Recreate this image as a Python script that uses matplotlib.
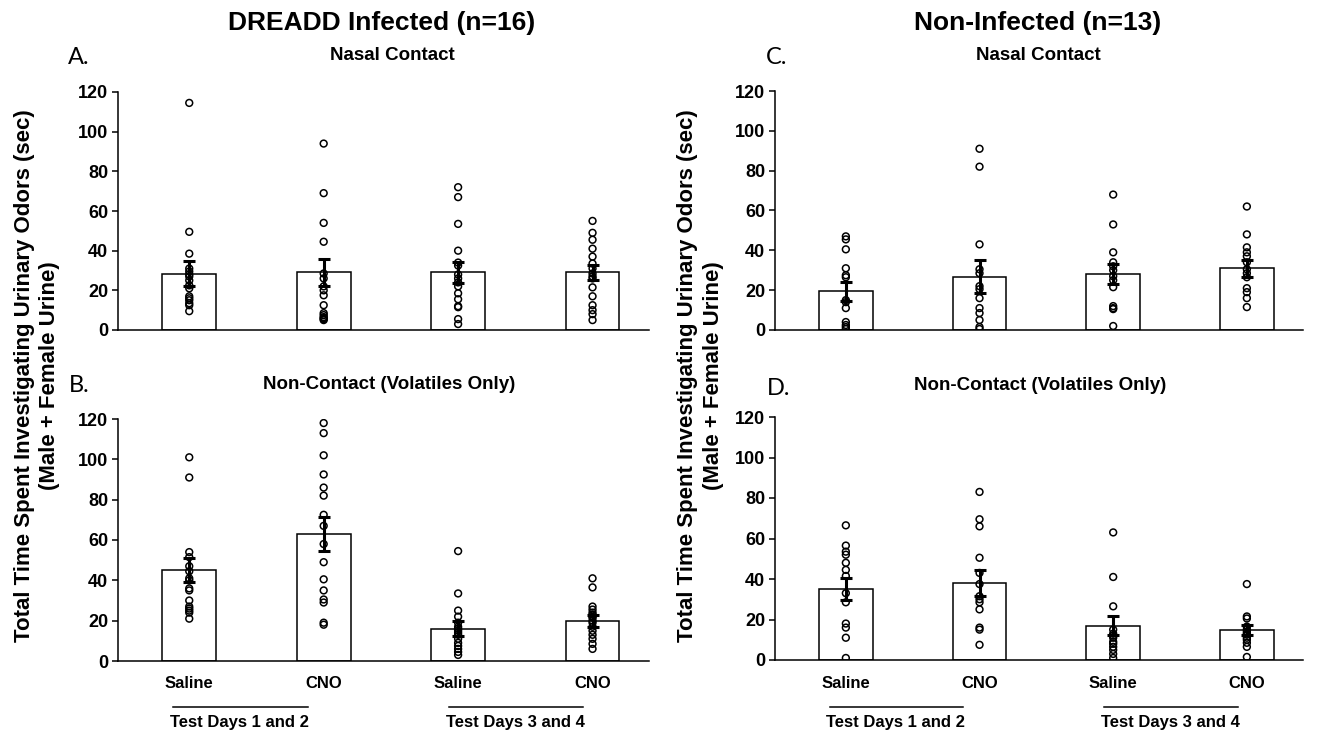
import matplotlib
matplotlib.use("Agg")
import matplotlib.pyplot as plt
import matplotlib.transforms as mtransforms
import numpy as np

plt.rcParams['font.family'] = ['Liberation Sans', 'DejaVu Sans']
plt.rcParams['font.weight'] = 'bold'

W, H = 1320, 737

# ---------------- data ----------------
conditions = ["Saline", "CNO", "Saline", "CNO"]
day_groups = ["Test Days 1 and 2", "Test Days 3 and 4"]

# Panel A: DREADD, Nasal Contact (n=16)
A_means = [28.4, 29.1, 29.1, 29.0]
A_sem = [6.4, 6.8, 5.3, 4.0]
A_sal12 = [114.5, 49.5, 38.5, 31, 29.5, 28, 27, 25, 22.5, 21, 17, 16, 15, 13.5, 12.5, 9.5]
A_cno12 = [94, 69, 54, 44.5, 28.5, 26, 22, 20, 17.5, 12.5, 8.5, 7.5, 6.5, 6, 5.5, 5]
A_sal34 = [72, 67, 53.5, 40, 34, 32.5, 28, 26, 24, 22, 18.5, 15.5, 12, 11.5, 5.5, 3]
A_cno34 = [55, 49, 45.5, 41, 37, 33.5, 31, 28.5, 27, 26, 21.5, 17, 12.5, 10, 8, 5]

# Panel B: DREADD, Non-Contact (n=16)
B_means = [45.1, 62.8, 15.9, 20.0]
B_sem = [6.0, 8.5, 3.7, 3.0]
B_sal12 = [101, 91, 54, 51.5, 47, 44.5, 41, 40, 36, 35, 30, 27, 26, 25, 24, 21]
B_cno12 = [118, 113, 102, 92.5, 86, 82, 72.5, 67, 58, 49, 40.5, 35, 30.5, 29, 19, 18]
B_sal34 = [54.5, 33.5, 25, 22, 19, 17, 16, 15, 14, 13, 11, 9, 7.5, 6, 4.5, 3]
B_cno34 = [41, 36.5, 27, 25.5, 24, 23, 22, 21.5, 20, 19, 17, 15, 13, 11, 8.5, 6]

# Panel C: Non-infected, Nasal Contact (n=13)
C_means = [19.4, 26.8, 28.3, 31.0]
C_sem = [4.6, 8.2, 5.0, 4.2]
C_sal12 = [47, 45.5, 40.5, 31, 27.5, 26.5, 15, 14, 11, 4, 2.5, 1.5, 0.5]
C_cno12 = [91, 82, 43, 30.5, 28.5, 22, 20.5, 16, 11, 8.5, 5, 1.5, 0.5]
C_sal34 = [68, 53, 39, 34, 32, 30, 27, 25, 21.5, 12, 11, 10.5, 2]
C_cno34 = [62, 48, 41.5, 39, 37, 34, 30.5, 28.5, 26.5, 21, 19, 16, 11.5]

# Panel D: Non-infected, Non-Contact (n=13)
D_means = [34.9, 38.1, 16.8, 14.8]
D_sem = [5.4, 6.5, 4.7, 2.3]
D_sal12 = [66.5, 56.5, 53.5, 52, 48, 44.5, 41.5, 33, 28.5, 18, 16, 11, 1]
D_cno12 = [83, 69.5, 66, 50.5, 43, 37.5, 31.5, 30, 28.5, 25, 16, 15, 7.5]
D_sal34 = [63, 41, 26.5, 15, 13, 12, 11, 9, 8, 6.5, 5, 3, 1]
D_cno34 = [37.5, 21.5, 20.5, 16.5, 15, 14, 13, 12.5, 11, 10, 8.5, 6.5, 1.5]

yticks = [0, 20, 40, 60, 80, 100, 120]
titles_top = ["DREADD Infected (n=16)", "Non-Infected (n=13)"]
subtitles = ["Nasal Contact", "Non-Contact (Volatiles Only)"]
letters = ["A.", "B.", "C.", "D."]
ylabel1 = "Total Time Spent Investigating Urinary Odors (sec)"
ylabel2 = "(Male + Female Urine)"

# ---------------- figure ----------------
fig = plt.figure(figsize=(W / 100, H / 100), dpi=100)


def px_rect(x0, x1, ytop, ybot):
    return [x0 / W, 1 - ybot / H, (x1 - x0) / W, (ybot - ytop) / H]


def fx(x):
    return x / W


def fy(y):
    return 1 - y / H


panels = [
    (px_rect(118, 649, 92, 330), A_means, A_sem, [A_sal12, A_cno12, A_sal34, A_cno34], False),
    (px_rect(118, 649, 419, 661), B_means, B_sem, [B_sal12, B_cno12, B_sal34, B_cno34], True),
    (px_rect(775, 1303, 91, 330), C_means, C_sem, [C_sal12, C_cno12, C_sal34, C_cno34], False),
    (px_rect(775, 1303, 417, 660), D_means, D_sem, [D_sal12, D_cno12, D_sal34, D_cno34], True),
]

xpos = np.arange(1, 5)
for rect, means, sems, pts, bottom_row in panels:
    ax = fig.add_axes(rect)
    ax.bar(xpos, means, width=0.4, color="white", edgecolor="black", linewidth=1.1, zorder=2)
    for xi, vals in zip(xpos, pts):
        ax.scatter(np.full(len(vals), xi), vals, s=24, facecolors="none",
                   edgecolors="black", linewidths=1.1, zorder=3)
    ax.errorbar(xpos, means, yerr=sems, fmt="none", ecolor="black", elinewidth=2.2,
                capsize=4, capthick=2.2, zorder=4)
    ax.set_xlim(0.47, 4.42)
    ax.set_ylim(0, 120)
    ax.set_yticks(yticks)
    ax.set_yticklabels([str(t) for t in yticks], fontsize=13, fontweight="bold")
    ax.set_xticks([])
    for s in ["top", "right"]:
        ax.spines[s].set_visible(False)
    for s in ["left", "bottom"]:
        ax.spines[s].set_linewidth(1.1)
    ax.tick_params(axis="y", direction="out", length=4, width=1.1, pad=3)
    if bottom_row:
        tr = mtransforms.blended_transform_factory(ax.transData, fig.transFigure)
        for xi, lab in zip(xpos, conditions):
            ax.text(xi, fy(684), lab, transform=tr, ha="center", va="center",
                    fontsize=12, fontweight="bold")
        for (l0, l1, tx), grp in zip([(0.88, 1.88, 1.37), (2.93, 3.93, 3.43)], day_groups):
            ax.plot([l0, l1], [fy(707), fy(707)], transform=tr, color="black",
                    linewidth=1.1, clip_on=False)
            ax.text(tx, fy(723), grp, transform=tr, ha="center", va="center",
                    fontsize=12, fontweight="bold")

# titles
fig.text(fx(382), fy(23), titles_top[0], ha="center", va="center", fontsize=19, fontweight="bold")
fig.text(fx(1038), fy(23), titles_top[1], ha="center", va="center", fontsize=19, fontweight="bold")
# subtitles
fig.text(fx(392), fy(56), subtitles[0], ha="center", va="center", fontsize=13.5, fontweight="bold")
fig.text(fx(389), fy(385), subtitles[1], ha="center", va="center", fontsize=13.5, fontweight="bold")
fig.text(fx(1038), fy(56), subtitles[0], ha="center", va="center", fontsize=13.5, fontweight="bold")
fig.text(fx(1040), fy(386), subtitles[1], ha="center", va="center", fontsize=13.5, fontweight="bold")
# panel letters
for (lx, ly), lt in zip([(79, 58), (79, 386), (777, 58), (779, 388)], letters):
    fig.text(fx(lx), fy(ly), lt, ha="center", va="center", fontsize=17,
             fontweight="normal", family=["Lato", "DejaVu Sans"])
# y labels
for x1, x2 in [(25, 50), (688, 713)]:
    fig.text(fx(x1), fy(376), ylabel1, rotation=90, ha="center", va="center",
             fontsize=16, fontweight="bold")
    fig.text(fx(x2), fy(376), ylabel2, rotation=90, ha="center", va="center",
             fontsize=16, fontweight="bold")

fig.savefig("out.png", dpi=100)
